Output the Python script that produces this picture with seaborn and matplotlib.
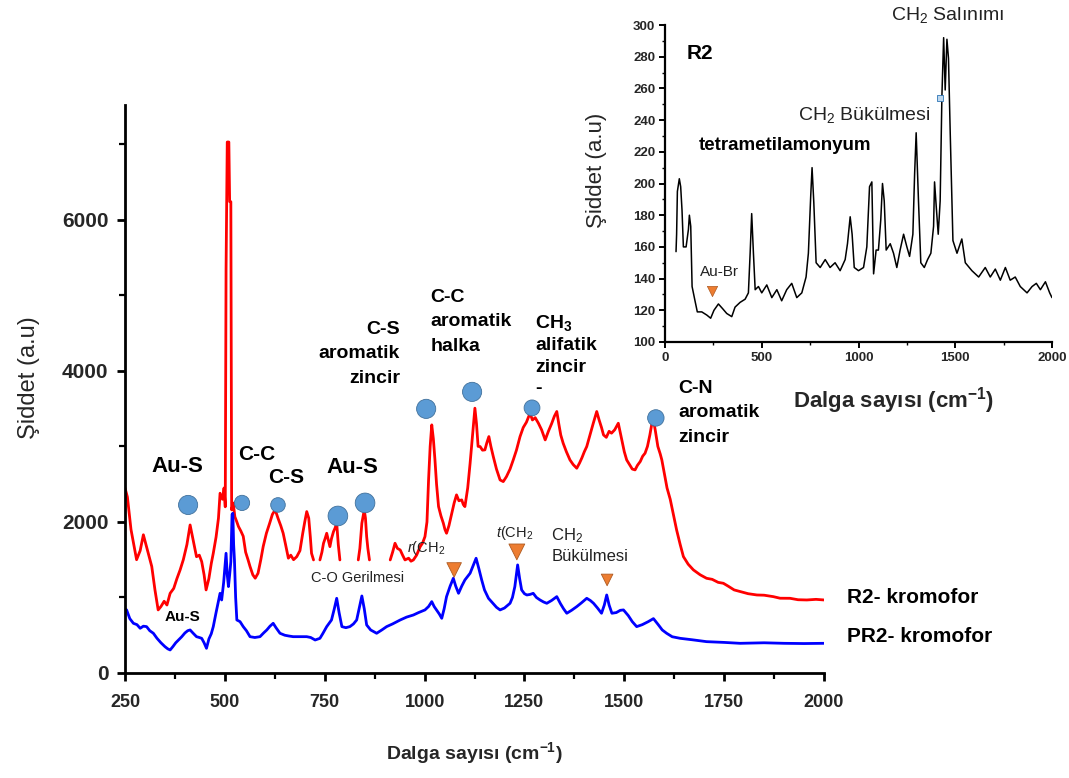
import numpy as np
import pandas as pd
import matplotlib
matplotlib.use("Agg")
import matplotlib.pyplot as plt
import seaborn as sns
from matplotlib import font_manager
from matplotlib.ticker import MultipleLocator

# ---------------- data ----------------
# main panel, R2-kromofor (red); NaN marks gaps in the drawn trace
red_wavenumber = [250, 256, 265, 279, 288, 296, 305, 317, 325, 333, 340, 348, 355, 363, 372, 380, 388, 396,
                  405, 413, 421, 429, 436, 442, 448, 453, 460, 466, 471, 478, 484, 488, 494, 498, 501, 503,
                  506, 510, 512, 515, 517, 521, 525, 530, 534, 540, 546, 552, 558, 563, 570, 576, 583, 590,
                  596, 604, 612, 619, 626, 633, 640, 646, 652, 659, 665, 672, 680, 688, 695, 700, 705, 710,
                  714, 717, 722, 730, 738, 743, 747, 751, 755, 759, 763, 767, 772, 776, 780, 784, 788, 810,
                  834, 838, 843, 849, 852, 855, 858, 862, 890, 914, 920, 926, 932, 939, 945, 951, 960, 966,
                  972, 980, 989, 995, 1001, 1006, 1010, 1014, 1018, 1022, 1026, 1030, 1035, 1041, 1047,
                  1051, 1055, 1061, 1068, 1074, 1080, 1086, 1093, 1097, 1101, 1108, 1114, 1120, 1126, 1130,
                  1134, 1139, 1145, 1151, 1156, 1161, 1166, 1172, 1180, 1189, 1197, 1205, 1214, 1222, 1230,
                  1239, 1247, 1255, 1264, 1270, 1277, 1285, 1293, 1302, 1310, 1318, 1325, 1331, 1336, 1341,
                  1347, 1355, 1364, 1372, 1381, 1388, 1394, 1400, 1406, 1414, 1422, 1431, 1437, 1443, 1448,
                  1455, 1462, 1468, 1476, 1485, 1490, 1495, 1500, 1506, 1513, 1520, 1527, 1533, 1540, 1546,
                  1552, 1558, 1564, 1569, 1573, 1578, 1584, 1590, 1594, 1600, 1607, 1615, 1625, 1631, 1640,
                  1648, 1660, 1673, 1690, 1706, 1720, 1735, 1748, 1760, 1775, 1790, 1810, 1832, 1850, 1873,
                  1890, 1915, 1935, 1957, 1980, 2000]
red_intensity = [2450, 2330, 1900, 1500, 1620, 1830, 1650, 1410, 1100, 835, 880, 950, 900, 1055, 1120, 1250,
                 1365, 1500, 1700, 1960, 1750, 1540, 1560, 1475, 1300, 1100, 1250, 1450, 1585, 1800, 2050,
                 2380, 2300, 2450, 2200, 5340, 7030, 7030, 6240, 6240, 2160, 2250, 2070, 2000, 1940, 1880,
                 1810, 1600, 1500, 1410, 1300, 1255, 1320, 1500, 1675, 1850, 1980, 2100, 2160, 2050, 1950,
                 1850, 1700, 1520, 1560, 1500, 1540, 1620, 1850, 2000, 2137, 2050, 1800, 1585, 1497, np.nan,
                 1497, 1600, 1718, 1780, 1850, 1760, 1673, 1780, 1872, 1920, 1983, 1700, 1497, np.nan,
                 1497, 1650, 1983, 2159, 2050, 1806, 1650, 1497, np.nan, 1497, 1600, 1718, 1650, 1629, 1560,
                 1497, 1520, 1480, 1497, 1560, 1673, 1720, 1806, 2000, 2556, 3000, 3285, 3100, 2821, 2500,
                 2203, 2080, 1983, 1900, 1850, 1950, 2115, 2250, 2358, 2280, 2292, 2230, 2203, 2450, 2777,
                 3150, 3506, 3300, 3000, 2998, 2950, 2954, 3050, 3130, 3000, 2866, 2700, 2556, 2534, 2600,
                 2700, 2821, 2950, 3130, 3250, 3320, 3440, 3350, 3380, 3307, 3220, 3086, 3200, 3300, 3400,
                 3462, 3300, 3150, 3042, 2930, 2821, 2760, 2711, 2780, 2850, 2930, 2998, 3150, 3300, 3462,
                 3350, 3250, 3152, 3120, 3200, 3175, 3220, 3307, 3180, 3050, 2930, 2821, 2760, 2700, 2689,
                 2750, 2800, 2870, 2910, 3000, 3150, 3300, 3351, 3200, 3000, 2900, 2821, 2650, 2450, 2300,
                 2050, 1894, 1700, 1541, 1440, 1365, 1300, 1254, 1240, 1200, 1188, 1150, 1100, 1078, 1050,
                 1033, 1030, 1011, 990, 989, 970, 967, 975, 967]

# main panel, PR2-kromofor (blue)
blue_wavenumber = [250, 254, 262, 271, 280, 288, 296, 304, 312, 321, 330, 340, 350, 357, 363, 370, 377, 384,
                   392, 400, 407, 413, 420, 429, 436, 442, 448, 454, 460, 466, 471, 478, 484, 488, 492, 497,
                   503, 506, 509, 512, 515, 518, 520, 522, 524, 527, 530, 538, 546, 554, 563, 575, 588, 597,
                   605, 613, 621, 628, 638, 650, 660, 671, 688, 705, 715, 726, 738, 745, 755, 767, 774, 780,
                   786, 793, 803, 813, 822, 830, 836, 843, 849, 855, 865, 880, 893, 905, 920, 939, 955, 972,
                   985, 1001, 1010, 1018, 1024, 1030, 1037, 1043, 1049, 1055, 1064, 1072, 1078, 1085, 1093,
                   1101, 1108, 1114, 1120, 1129, 1136, 1143, 1150, 1160, 1170, 1180, 1189, 1200, 1214, 1220,
                   1226, 1233, 1238, 1243, 1250, 1256, 1264, 1272, 1280, 1289, 1298, 1306, 1318, 1331, 1340,
                   1348, 1356, 1368, 1381, 1393, 1406, 1415, 1423, 1433, 1443, 1450, 1456, 1462, 1469, 1480,
                   1490, 1498, 1510, 1520, 1531, 1545, 1560, 1573, 1585, 1595, 1606, 1620, 1640, 1670, 1706,
                   1750, 1790, 1850, 1900, 1950, 2000]
blue_intensity = [850, 835, 720, 658, 640, 592, 620, 614, 560, 526, 460, 400, 349, 320, 305, 350, 400, 437,
                  480, 530, 560, 570, 530, 481, 470, 459, 400, 327, 450, 520, 614, 800, 950, 1055, 967, 1200,
                  1585, 1300, 1144, 1300, 1475, 2100, 2115, 1700, 1497, 1000, 702, 680, 614, 560, 481, 470,
                  481, 530, 570, 620, 658, 600, 526, 500, 490, 481, 481, 481, 470, 437, 459, 520, 614, 702,
                  850, 989, 800, 614, 600, 614, 650, 702, 850, 1020, 850, 636, 570, 526, 570, 614, 650, 702,
                  740, 768, 800, 835, 880, 945, 880, 835, 780, 724, 850, 1011, 1150, 1254, 1150, 1055, 1150,
                  1232, 1280, 1321, 1400, 1519, 1380, 1232, 1100, 989, 930, 870, 835, 860, 923, 1000, 1144,
                  1431, 1250, 1100, 1050, 1033, 1040, 1055, 1000, 967, 940, 923, 960, 1011, 920, 850, 791,
                  830, 879, 930, 989, 960, 923, 860, 791, 900, 1033, 900, 791, 800, 830, 835, 760, 680, 614,
                  640, 680, 720, 640, 570, 526, 480, 459, 440, 415, 405, 393, 400, 393, 390, 393]

# inset, R2 (black)
inset_wavenumber = [57, 60, 64, 74, 81, 88, 95, 109, 121, 126, 133, 140, 155, 167, 190, 216, 236, 253, 276,
                    298, 319, 345, 362, 388, 414, 431, 440, 448, 457, 466, 483, 500, 526, 552, 578, 603, 629,
                    655, 681, 707, 729, 741, 753, 760, 769, 781, 802, 828, 853, 879, 905, 931, 943, 957, 967,
                    978, 1000, 1026, 1043, 1057, 1069, 1078, 1091, 1103, 1115, 1124, 1133, 1143, 1164, 1181,
                    1198, 1215, 1233, 1250, 1264, 1281, 1290, 1298, 1310, 1322, 1340, 1357, 1374, 1388, 1393,
                    1402, 1412, 1422, 1431, 1440, 1448, 1457, 1465, 1474, 1488, 1509, 1534, 1552, 1586, 1621,
                    1655, 1681, 1707, 1733, 1759, 1784, 1810, 1836, 1871, 1897, 1919, 1940, 1966, 1988, 2000]
inset_intensity = [157, 168, 195, 203, 198, 183, 160, 160, 171, 180, 173, 135, 126, 119, 119, 117, 115, 120,
                   124, 121, 118, 116, 122, 125, 127, 131, 156, 181, 156, 133, 135, 131, 136, 128, 133, 126,
                   133, 137, 128, 131, 141, 156, 192, 210, 188, 150, 147, 152, 147, 150, 145, 152, 162, 179,
                   168, 147, 145, 147, 160, 198, 201, 143, 158, 158, 177, 200, 189, 158, 162, 156, 147, 158,
                   168, 160, 154, 168, 206, 232, 189, 150, 147, 152, 156, 173, 201, 185, 168, 189, 255, 292,
                   259, 291, 279, 232, 164, 156, 165, 150, 145, 141, 147, 141, 146, 139, 147, 139, 141, 135,
                   131, 135, 137, 133, 138, 131, 128]

# peak markers (main panel)
circle_wavenumber = [408, 543, 633, 783, 851, 1004, 1119, 1269, 1579]
circle_intensity = [2225, 2252, 2225, 2079, 2252, 3497, 3722, 3510, 3377]
circle_size = [190, 120, 110, 200, 200, 190, 190, 130, 140]
triangle_wavenumber = [1074, 1231, 1457]
triangle_intensity = [1364, 1603, 1232]
triangle_size = [110, 130, 70]

# axis ticks
main_xticks = [250, 500, 750, 1000, 1250, 1500, 1750, 2000]
main_yticks = [0, 2000, 4000, 6000]
inset_xticks = [0, 500, 1000, 1500, 2000]
inset_yticks = [100, 120, 140, 160, 180, 200, 220, 240, 260, 280, 300]

# ---------------- style ----------------
sns.set_theme(style="ticks")
FONT = "Liberation Sans"
plt.rcParams["font.family"] = [FONT, "DejaVu Sans"]
plt.rcParams["mathtext.fontset"] = "custom"
plt.rcParams["mathtext.rm"] = FONT
plt.rcParams["mathtext.it"] = FONT + ":italic"
plt.rcParams["mathtext.bf"] = FONT + ":bold"

names = {f.name for f in font_manager.fontManager.ttflist}
NARROW = "Liberation Sans Narrow" if "Liberation Sans Narrow" in names else FONT

W, H = 1069, 778
fig = plt.figure(figsize=(W / 100, H / 100), dpi=100)
fig.patch.set_facecolor("white")

def px_axes(left, top, right, bottom):
    return [left / W, 1 - bottom / H, (right - left) / W, (bottom - top) / H]

ax = fig.add_axes(px_axes(125, 105, 824, 673))
axi = fig.add_axes(px_axes(665, 25, 1052, 342))

# ---------------- main panel ----------------
red = pd.DataFrame({"wn": red_wavenumber, "I": red_intensity})
red["seg"] = red["I"].isna().cumsum()
red = red.dropna()
blue = pd.DataFrame({"wn": blue_wavenumber, "I": blue_intensity})

sns.lineplot(data=red, x="wn", y="I", units="seg", estimator=None, sort=False,
             color="#ff0000", lw=2.0, ax=ax, legend=False)
sns.lineplot(data=blue, x="wn", y="I", estimator=None, sort=False,
             color="#0000ff", lw=2.0, ax=ax, legend=False)

circ = pd.DataFrame({"wn": circle_wavenumber, "I": circle_intensity, "s": circle_size})
sns.scatterplot(data=circ, x="wn", y="I", size="s", sizes=(min(circle_size), max(circle_size)),
                color="#5b9bd5", edgecolor="#41719c", linewidth=0.6, ax=ax, legend=False, zorder=5)
tri = pd.DataFrame({"wn": triangle_wavenumber, "I": triangle_intensity, "s": triangle_size})
sns.scatterplot(data=tri, x="wn", y="I", size="s", sizes=(min(triangle_size), max(triangle_size)),
                marker="v", color="#ed7d31", edgecolor="#ae5a21", linewidth=0.6, ax=ax,
                legend=False, zorder=5)

ax.set_xlim(250, 2000)
ax.set_ylim(0, 7520)
ax.set_xticks(main_xticks)
ax.set_yticks(main_yticks)
ax.xaxis.set_minor_locator(MultipleLocator(125))
ax.yaxis.set_minor_locator(MultipleLocator(1000))
for s in ["top", "right"]:
    ax.spines[s].set_visible(False)
for s in ["left", "bottom"]:
    ax.spines[s].set_linewidth(2.0)
    ax.spines[s].set_color("black")
ax.tick_params(which="major", direction="out", length=6, width=2.0, color="black")
ax.tick_params(which="minor", direction="out", length=4, width=1.6, color="black")
ax.tick_params(axis="y", which="major", pad=6)
ax.tick_params(axis="x", which="major", pad=9)
for lab in ax.get_yticklabels():
    lab.set_fontfamily(FONT); lab.set_fontweight("bold"); lab.set_fontsize(15)
for lab in ax.get_xticklabels():
    lab.set_fontfamily(NARROW); lab.set_fontweight("bold")
    lab.set_fontsize(16 if NARROW != FONT else 13)

ax.set_xlabel(r"Dalga sayısı (cm$^{\mathbf{-1}}$)", fontsize=14, fontweight="bold")
ax.xaxis.set_label_coords(0.50, -0.118)
ax.set_ylabel("Şiddet (a.u)", fontsize=17)
ax.yaxis.set_label_coords(-0.122, 0.52)

bold = dict(fontweight="bold", color="black")
ax.text(380, 2728, "Au-S", fontsize=16, ha="center", va="center", **bold)
ax.text(580, 2887, "C-C", fontsize=15, ha="center", va="center", **bold)
ax.text(653, 2583, "C-S", fontsize=15, ha="center", va="center", **bold)
ax.text(818, 2715, "Au-S", fontsize=16, ha="center", va="center", **bold)
ax.text(938, 4225, "C-S\naromatik\nzincir", fontsize=14, ha="right", va="center",
        linespacing=1.55, **bold)
ax.text(1014, 4649, "C-C\naromatik\nhalka", fontsize=14, ha="left", va="center",
        linespacing=1.55, **bold)
ax.text(1277, 4210, "CH$_\\mathbf{3}$\nalifatik\nzincir\n-", fontsize=14, ha="left", va="center",
        linespacing=1.35, **bold)
ax.text(1635, 3444, "C-N\naromatik\nzincir", fontsize=14, ha="left", va="center",
        linespacing=1.55, **bold)
ax.text(395, 742, "Au-S", fontsize=11, ha="center", va="center", **bold)
ax.text(831, 1258, "C-O Gerilmesi", fontsize=10.5, ha="center", va="center", color="#222222")
ax.text(955, 1656, r"$\it{r}$(CH$_2$", fontsize=10.5, ha="left", va="center", color="#222222")
ax.text(1180, 1854, r"$\it{t}$(CH$_2$", fontsize=10.5, ha="left", va="center", color="#222222")
ax.text(1317, 1690, "CH$_2$\nBükülmesi", fontsize=12, ha="left", va="center",
        linespacing=1.3, color="#222222")
ax.text(2058, 1006, "R2- kromofor", fontsize=15, ha="left", va="center", clip_on=False, **bold)
ax.text(2058, 477, "PR2- kromofor", fontsize=15, ha="left", va="center", clip_on=False, **bold)

# ---------------- inset ----------------
ins = pd.DataFrame({"wn": inset_wavenumber, "I": inset_intensity})
sns.lineplot(data=ins, x="wn", y="I", estimator=None, sort=False, color="black", lw=1.1,
             ax=axi, legend=False)
axi.set_facecolor("none")
axi.set_xlim(0, 2000)
axi.set_ylim(100, 300)
axi.set_xticks(inset_xticks)
axi.set_yticks(inset_yticks)
axi.xaxis.set_minor_locator(MultipleLocator(250))
axi.yaxis.set_minor_locator(MultipleLocator(10))
for s in ["top", "right"]:
    axi.spines[s].set_visible(False)
for s in ["left", "bottom"]:
    axi.spines[s].set_linewidth(1.6)
    axi.spines[s].set_color("black")
axi.tick_params(which="major", direction="out", length=4, width=1.4, color="black", pad=3)
axi.tick_params(which="minor", direction="out", length=2.5, width=1.0, color="black")
for lab in axi.get_xticklabels() + axi.get_yticklabels():
    lab.set_fontweight("bold"); lab.set_fontsize(9.5)
axi.set_xlabel(r"Dalga sayısı (cm$^{\mathbf{-1}}$)", fontsize=16, fontweight="bold")
axi.xaxis.set_label_coords(0.59, -0.135)
axi.set_ylabel("Şiddet (a.u)", fontsize=16)
axi.yaxis.set_label_coords(-0.15, 0.54)

axi.text(181, 282, "R2", fontsize=15, ha="center", va="center", **bold)
axi.text(1460, 306, "CH$_2$ Salınımı", fontsize=14, ha="center", va="center", clip_on=False,
         color="#222222")
axi.text(1029, 243, "CH$_2$ Bükülmesi", fontsize=14, ha="center", va="center", color="#222222")
axi.text(621, 224, "tetrametilamonyum", fontsize=13.5, ha="center", va="center", **bold)
axi.text(284, 144, "Au-Br", fontsize=11, ha="center", va="center", color="#222222")
axi.scatter([241], [132], marker="v", s=55, color="#ed7d31", edgecolor="#ae5a21", lw=0.5, zorder=5)
axi.scatter([1422], [254], marker="s", s=14, color="#bdd7ee", edgecolor="#2e75b6", lw=0.6, zorder=5)

fig.savefig("out.png", dpi=100, facecolor="white")
